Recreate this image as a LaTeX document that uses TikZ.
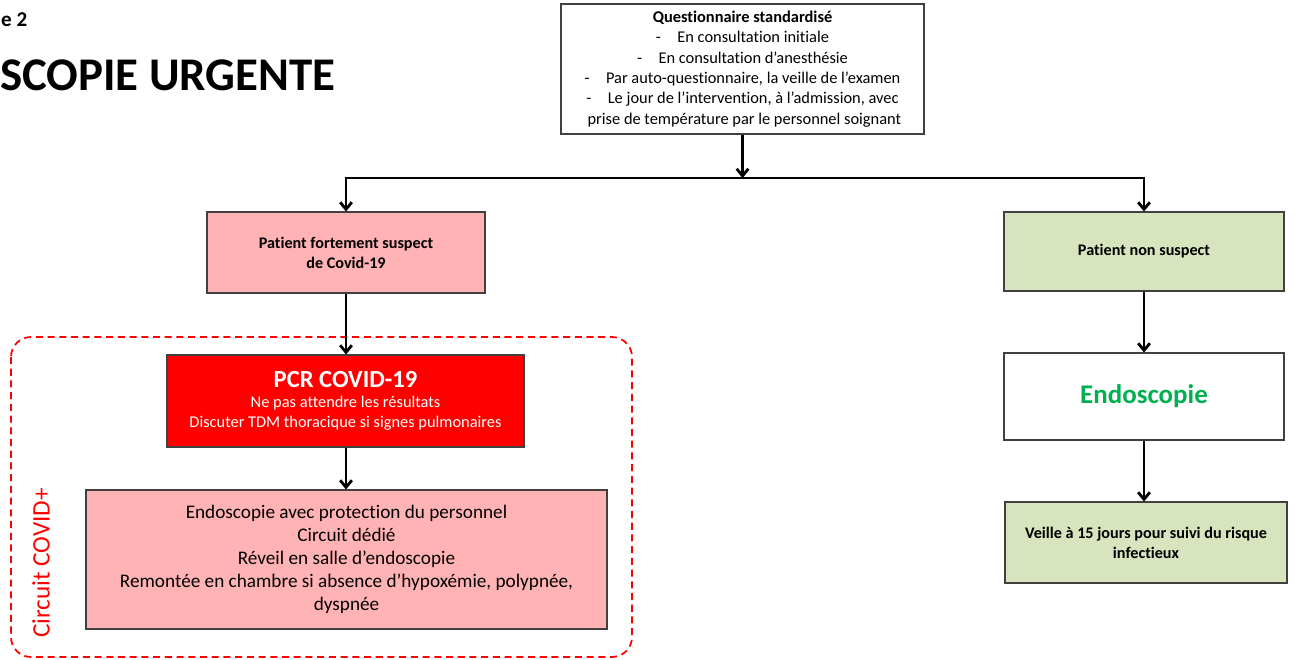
\documentclass[tikz,border=0pt]{standalone}
\usepackage{fontspec}
\setmainfont{Carlito}[Ligatures=NoCommon]
\usetikzlibrary{arrows.meta,shadows}
\definecolor{rosebox}{RGB}{255,179,181}
\definecolor{rougepcr}{RGB}{255,0,0}
\definecolor{vertbox}{RGB}{215,228,189}
\definecolor{vertendo}{RGB}{0,176,80}
\begin{document}
\begin{tikzpicture}[x=0.03cm,y=-0.03cm]
  \tikzstyle{boite}=[draw=black!75,line width=0.9pt,align=center,inner sep=2pt,
    drop shadow={opacity=0.35,shadow xshift=1.2pt,shadow yshift=-1.2pt}]
  \tikzstyle{fleche}=[line width=2.4pt,-{Straight Barb[length=6pt,width=10pt]}]
  \useasboundingbox (0,0) rectangle (1294,659);
  % titre
  \node[anchor=west,font=\fontsize{18}{20}\selectfont\bfseries] (num) at (-3,20) {e 2};
  \node[anchor=west,font=\fontsize{40}{44}\selectfont\bfseries] (titre) at (-4,75) {SCOPIE URGENTE};
  % circuit covid+
  \draw[rougepcr,line width=1.5pt,dash pattern=on 6pt off 4pt,rounded corners=0.6cm]
    (11,337) rectangle (632,657);
  \node[rotate=90,text=rougepcr,font=\fontsize{21.5}{24}\selectfont] (circuit) at (41,563) {Circuit COVID+};
  % boites
  \node[boite,fill=white,minimum width=10.89cm,minimum height=3.9cm,font=\fontsize{14}{17.4}\selectfont] (quest) at (742.5,69)
    {\textbf{Questionnaire standardisé}\\
     -\quad En consultation initiale\\
     -\quad En consultation d’anesthésie\\
     -\quad Par auto-questionnaire, la veille de l’examen\\
     -\quad Le jour de l’intervention, à l’admission, avec\\
     \ prise de température par le personnel soignant};
  \node[boite,fill=rosebox,minimum width=8.34cm,minimum height=2.43cm,font=\fontsize{13.8}{17}\selectfont\bfseries] (fs) at (346,252.5)
    {Patient fortement suspect\\ de Covid-19};
  \node[boite,fill=rougepcr,text=white,minimum width=10.71cm,minimum height=2.76cm,font=\fontsize{14}{17}\selectfont] (pcr) at (345.5,401)
    {{\fontsize{21}{25}\selectfont\bfseries PCR COVID-19}\\
     Ne pas attendre les résultats\\
     Discuter TDM thoracique si signes pulmonaires};
  \node[boite,fill=rosebox,minimum width=15.63cm,minimum height=4.17cm,font=\fontsize{16.4}{19.6}\selectfont] (protec) at (346.5,559.5)
    {Endoscopie avec protection du personnel\\
     Circuit dédié\\
     Réveil en salle d’endoscopie\\
     Remontée en chambre si absence d’hypoxémie, polypnée,\\
     dyspnée};
  \node[boite,fill=vertbox,minimum width=8.4cm,minimum height=2.37cm,font=\fontsize{13.8}{17}\selectfont\bfseries] (ns) at (1144,251.5)
    {Patient non suspect};
  \node[boite,fill=white,text=vertendo,minimum width=8.4cm,minimum height=2.61cm,font=\fontsize{23}{26}\selectfont\bfseries] (endo) at (1144,396.5)
    {Endoscopie};
  \node[boite,fill=vertbox,minimum width=8.46cm,minimum height=2.43cm,font=\fontsize{13.8}{17}\selectfont\bfseries] (veille) at (1146,542.5)
    {Veille à 15 jours pour suivi du risque\\ infectieux};
  % fleches
  \coordinate (split) at (742.5,178);
  \draw[fleche] (quest) -- (split);
  \draw[fleche] (split) -| (fs);
  \draw[fleche] (split) -| (ns);
  \draw[fleche] (fs) -- (pcr.north -| fs);
  \draw[fleche] (pcr.south -| fs) -- (protec.north -| fs);
  \draw[fleche] (ns) -- (endo);
  \draw[fleche] (endo) -- (veille.north -| endo);
\end{tikzpicture}
\end{document}
